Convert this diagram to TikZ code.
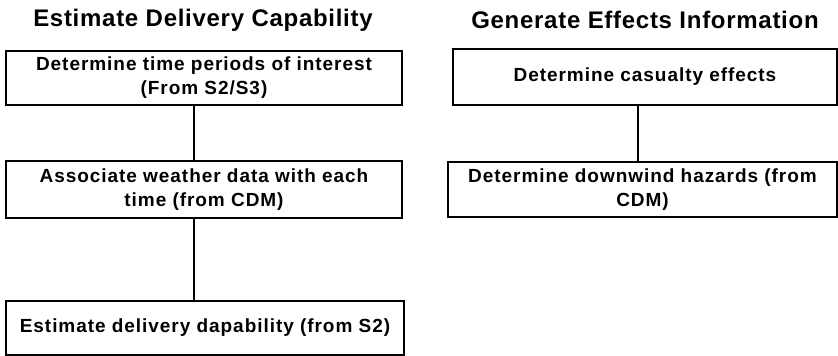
\documentclass[tikz,border=0pt]{standalone}
\usepackage{fontspec}
\setmainfont{Liberation Sans}
\newfontfamily\boxfont[LetterSpace=5]{Liberation Sans}
\newfontfamily\headfont[LetterSpace=3]{Liberation Sans}
\begin{document}
\begin{tikzpicture}[x=1pt,y=1pt,
  procbox/.style={draw, line width=1.8pt, inner sep=0pt, align=center,
    font=\boxfont\bfseries\fontsize{19}{24}\selectfont},
  headline/.style={inner sep=0pt, anchor=base,
    font=\headfont\bfseries\fontsize{24}{28}\selectfont},
  link/.style={line width=1.8pt}]
\useasboundingbox (0,0) rectangle (838,-356);
% titles
\node[headline] (t1) at (203,-27) {Estimate Delivery Capability};
\node[headline] (t2) at (645,-28) {Generate Effects Information};
% left column
\node[procbox, minimum width=396pt, minimum height=54pt] (b1) at (204,-78)
  {Determine time periods of interest\\(From S2/S3)};
\node[procbox, minimum width=396pt, minimum height=57pt] (b2) at (204,-189.5)
  {Associate weather data with each\\time (from CDM)};
\node[procbox, minimum width=398pt, minimum height=54pt] (b3) at (205,-328)
  {Estimate delivery dapability (from S2)};
% right column
\node[procbox, minimum width=384pt, minimum height=56pt] (b4) at (645,-77)
  {Determine casualty effects};
\node[procbox, minimum width=389pt, minimum height=55pt] (b5) at (642.5,-189.5)
  {Determine downwind hazards (from\\CDM)};
% connectors
\coordinate (cl) at (194,0);
\coordinate (cr) at (638,0);
\draw[link] (b1.south -| cl) -- (b2.north -| cl);
\draw[link] (b2.south -| cl) -- (b3.north -| cl);
\draw[link] (b4.south -| cr) -- (b5.north -| cr);
\end{tikzpicture}
\end{document}
